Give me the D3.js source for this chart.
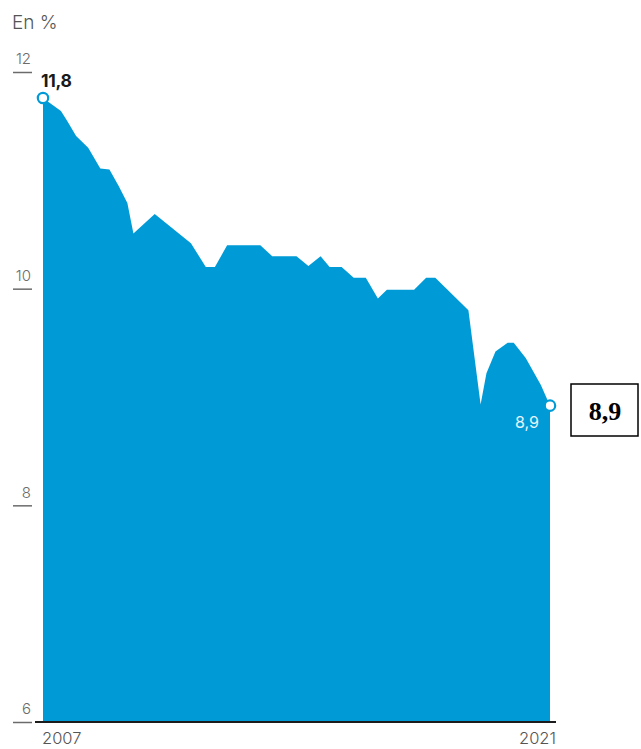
<!DOCTYPE html>
<html>
<head>
<meta charset="utf-8">
<script src="https://cdn.jsdelivr.net/npm/d3@7/dist/d3.min.js"></script>
<style>
  html, body { margin: 0; padding: 0; background: #fff; }
  svg { display: block; }
</style>
</head>
<body>
<svg id="chart" width="641" height="749"></svg>
<script>
const dates = ["2007-01","2007-04","2007-07","2007-09","2007-12","2008-04","2008-08","2008-11","2009-02","2009-05","2009-07","2010-02","2011-02","2011-07","2011-10","2012-02","2013-01","2013-05","2014-01","2014-05","2014-09","2014-12","2015-04","2015-08","2015-12","2016-04","2016-07","2017-04","2017-08","2017-11","2018-10","2019-02","2019-04","2019-07","2019-11","2020-01","2020-05","2020-10","2021-01"];
const values = [11.76,11.70,11.64,11.55,11.41,11.30,11.11,11.10,10.95,10.79,10.51,10.69,10.42,10.20,10.20,10.40,10.40,10.30,10.30,10.21,10.30,10.20,10.20,10.10,10.10,9.91,9.99,9.99,10.10,10.10,9.80,8.93,9.22,9.42,9.50,9.50,9.36,9.11,8.92];
const yTicks = [6, 8, 10, 12];
const xLabels = ["2007", "2021"];
const unitLabel = "En %";
const firstLabel = "11,8";
const lastLabel = "8,9";

const parse = d3.timeParse("%Y-%m");
const data = dates.map((d, i) => ({ date: parse(d), value: values[i] }));

const svg = d3.select("#chart");
const blue = "#009bd6";
const grey = "#6b6b6b";
const font = "Inter, 'Open Sans', sans-serif";

const x = d3.scaleTime()
  .domain([parse("2007-01"), parse("2021-01")])
  .range([43, 550]);
const y = d3.scaleLinear().domain([6, 12]).range([722, 72]);

// area
const area = d3.area()
  .x(d => x(d.date))
  .y0(y(6))
  .y1(d => y(d.value))
  .curve(d3.curveLinear);
svg.append("path").datum(data)
  .attr("d", area)
  .attr("fill", blue);

// y axis ticks (short lines with labels above)
const yAxis = d3.axisLeft(y).tickValues(yTicks).tickSize(19).tickFormat(d => d);
const yg = svg.append("g").attr("transform", "translate(32,0)").call(yAxis);
yg.select(".domain").remove();
yg.selectAll(".tick line").attr("stroke", grey).attr("stroke-width", 1.5);
yg.selectAll(".tick text")
  .attr("x", -1).attr("dy", "-0.55em")
  .attr("fill", grey)
  .style("font-family", font).style("font-size", "15px").style("font-weight", 300)
  .attr("text-anchor", "end");

// baseline
svg.append("line")
  .attr("x1", 35).attr("x2", 556)
  .attr("y1", y(6)).attr("y2", y(6))
  .attr("stroke", "#1c1c1c").attr("stroke-width", 2.2);

// x labels
svg.selectAll("text.xl").data(xLabels).enter().append("text")
  .attr("class", "xl")
  .attr("x", (d, i) => i === 0 ? x(parse(d + "-01")) - 1 : x(parse(d + "-01")) + 6)
  .attr("y", 744)
  .attr("text-anchor", (d, i) => i === 0 ? "start" : "end")
  .attr("fill", "#555")
  .style("font-family", font).style("font-size", "16.5px").style("font-weight", 300)
  .text(d => d);

// unit label
svg.append("text").attr("x", 12).attr("y", 29)
  .attr("fill", "#555")
  .style("font-family", font).style("font-size", "19px").style("font-weight", 300)
  .text(unitLabel);

// end markers
const first = data[0], last = data[data.length - 1];
svg.selectAll("circle.m").data([first, last]).enter().append("circle")
  .attr("class", "m")
  .attr("cx", d => x(d.date)).attr("cy", d => y(d.value))
  .attr("r", 5.2)
  .attr("fill", "#fff").attr("stroke", blue).attr("stroke-width", 2.2);

svg.append("text")
  .attr("x", x(first.date) - 2).attr("y", y(first.value) - 11)
  .attr("fill", "#1a1a1a")
  .style("font-family", font).style("font-size", "17.5px").style("font-weight", 700)
  .style("letter-spacing", "-0.3px")
  .text(firstLabel);

svg.append("text")
  .attr("x", x(last.date) - 11).attr("y", y(last.value) + 22)
  .attr("text-anchor", "end")
  .attr("fill", "#e6f4fb")
  .style("font-family", font).style("font-size", "16px").style("font-weight", 400)
  .text(lastLabel);

// boxed callout
svg.append("rect")
  .attr("x", 571).attr("y", 384).attr("width", 67).attr("height", 52)
  .attr("fill", "#fff").attr("stroke", "#000").attr("stroke-width", 1.5);
svg.append("text")
  .attr("x", 605).attr("y", 420)
  .attr("text-anchor", "middle")
  .attr("fill", "#000")
  .style("font-family", "'Liberation Serif', 'Times New Roman', serif")
  .style("font-size", "26px").style("font-weight", 700)
  .text(lastLabel);
</script>
</body>
</html>
